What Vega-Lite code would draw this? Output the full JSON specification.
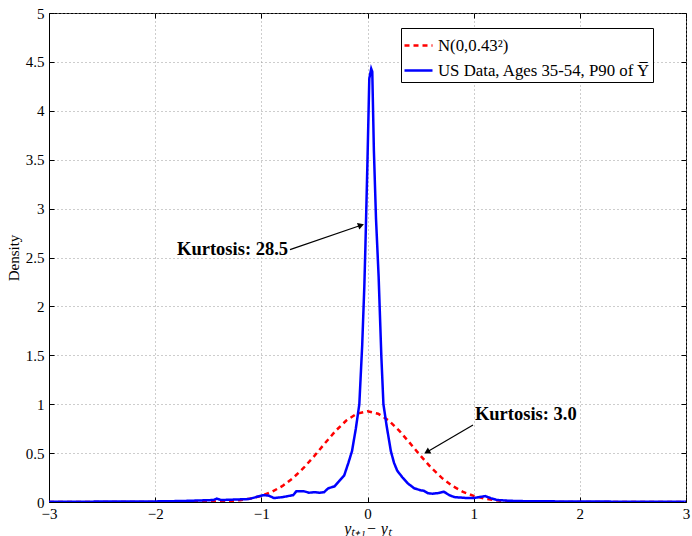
{
  "$schema": "https://vega.github.io/schema/vega-lite/v6.json",
  "width": 637,
  "height": 489,
  "autosize": "none",
  "padding": {"left": 49, "top": 13, "right": 6, "bottom": 34},
  "background": "white",
  "config": {
    "view": {"stroke": "black", "strokeWidth": 1},
    "font": "Liberation Serif"
  },
  "resolve": {"axis": {"x": "independent", "y": "independent"}},
  "datasets": {
    "curves": [
      {"s": "N(0,0.43²)", "x": -3.0, "y": 0.0},
      {"s": "N(0,0.43²)", "x": -2.0, "y": 0.0},
      {"s": "N(0,0.43²)", "x": -1.6, "y": 0.0008},
      {"s": "N(0,0.43²)", "x": -1.5, "y": 0.0021},
      {"s": "N(0,0.43²)", "x": -1.4, "y": 0.0046},
      {"s": "N(0,0.43²)", "x": -1.3, "y": 0.0096},
      {"s": "N(0,0.43²)", "x": -1.2, "y": 0.0189},
      {"s": "N(0,0.43²)", "x": -1.1, "y": 0.0352},
      {"s": "N(0,0.43²)", "x": -1.0, "y": 0.0621},
      {"s": "N(0,0.43²)", "x": -0.9, "y": 0.1039},
      {"s": "N(0,0.43²)", "x": -0.8, "y": 0.1644},
      {"s": "N(0,0.43²)", "x": -0.7, "y": 0.2467},
      {"s": "N(0,0.43²)", "x": -0.6, "y": 0.3506},
      {"s": "N(0,0.43²)", "x": -0.5, "y": 0.472},
      {"s": "N(0,0.43²)", "x": -0.4, "y": 0.602},
      {"s": "N(0,0.43²)", "x": -0.3, "y": 0.7276},
      {"s": "N(0,0.43²)", "x": -0.2, "y": 0.833},
      {"s": "N(0,0.43²)", "x": -0.1, "y": 0.903},
      {"s": "N(0,0.43²)", "x": 0.0, "y": 0.928},
      {"s": "N(0,0.43²)", "x": 0.1, "y": 0.903},
      {"s": "N(0,0.43²)", "x": 0.2, "y": 0.833},
      {"s": "N(0,0.43²)", "x": 0.3, "y": 0.7276},
      {"s": "N(0,0.43²)", "x": 0.4, "y": 0.602},
      {"s": "N(0,0.43²)", "x": 0.5, "y": 0.472},
      {"s": "N(0,0.43²)", "x": 0.6, "y": 0.3506},
      {"s": "N(0,0.43²)", "x": 0.7, "y": 0.2467},
      {"s": "N(0,0.43²)", "x": 0.8, "y": 0.1644},
      {"s": "N(0,0.43²)", "x": 0.9, "y": 0.1039},
      {"s": "N(0,0.43²)", "x": 1.0, "y": 0.0621},
      {"s": "N(0,0.43²)", "x": 1.1, "y": 0.0352},
      {"s": "N(0,0.43²)", "x": 1.2, "y": 0.0189},
      {"s": "N(0,0.43²)", "x": 1.3, "y": 0.0096},
      {"s": "N(0,0.43²)", "x": 1.4, "y": 0.0046},
      {"s": "N(0,0.43²)", "x": 1.5, "y": 0.0021},
      {"s": "N(0,0.43²)", "x": 1.6, "y": 0.0008},
      {"s": "N(0,0.43²)", "x": 2.0, "y": 0.0},
      {"s": "N(0,0.43²)", "x": 3.0, "y": 0.0},
      {"s": "US Data, Ages 35-54, P90 of Y̅", "x": -3.0, "y": 0.003},
      {"s": "US Data, Ages 35-54, P90 of Y̅", "x": -2.5, "y": 0.004},
      {"s": "US Data, Ages 35-54, P90 of Y̅", "x": -2.0, "y": 0.006},
      {"s": "US Data, Ages 35-54, P90 of Y̅", "x": -1.75, "y": 0.01},
      {"s": "US Data, Ages 35-54, P90 of Y̅", "x": -1.6, "y": 0.015},
      {"s": "US Data, Ages 35-54, P90 of Y̅", "x": -1.45, "y": 0.02},
      {"s": "US Data, Ages 35-54, P90 of Y̅", "x": -1.42, "y": 0.035},
      {"s": "US Data, Ages 35-54, P90 of Y̅", "x": -1.38, "y": 0.02},
      {"s": "US Data, Ages 35-54, P90 of Y̅", "x": -1.25, "y": 0.025},
      {"s": "US Data, Ages 35-54, P90 of Y̅", "x": -1.12, "y": 0.03},
      {"s": "US Data, Ages 35-54, P90 of Y̅", "x": -1.05, "y": 0.05},
      {"s": "US Data, Ages 35-54, P90 of Y̅", "x": -0.98, "y": 0.07},
      {"s": "US Data, Ages 35-54, P90 of Y̅", "x": -0.93, "y": 0.065},
      {"s": "US Data, Ages 35-54, P90 of Y̅", "x": -0.88, "y": 0.04},
      {"s": "US Data, Ages 35-54, P90 of Y̅", "x": -0.8, "y": 0.05},
      {"s": "US Data, Ages 35-54, P90 of Y̅", "x": -0.75, "y": 0.06},
      {"s": "US Data, Ages 35-54, P90 of Y̅", "x": -0.7, "y": 0.07},
      {"s": "US Data, Ages 35-54, P90 of Y̅", "x": -0.67, "y": 0.11},
      {"s": "US Data, Ages 35-54, P90 of Y̅", "x": -0.6, "y": 0.11},
      {"s": "US Data, Ages 35-54, P90 of Y̅", "x": -0.55, "y": 0.095},
      {"s": "US Data, Ages 35-54, P90 of Y̅", "x": -0.5, "y": 0.1},
      {"s": "US Data, Ages 35-54, P90 of Y̅", "x": -0.45, "y": 0.095},
      {"s": "US Data, Ages 35-54, P90 of Y̅", "x": -0.41, "y": 0.1},
      {"s": "US Data, Ages 35-54, P90 of Y̅", "x": -0.37, "y": 0.14},
      {"s": "US Data, Ages 35-54, P90 of Y̅", "x": -0.31, "y": 0.16},
      {"s": "US Data, Ages 35-54, P90 of Y̅", "x": -0.27, "y": 0.21},
      {"s": "US Data, Ages 35-54, P90 of Y̅", "x": -0.22, "y": 0.27},
      {"s": "US Data, Ages 35-54, P90 of Y̅", "x": -0.18, "y": 0.4},
      {"s": "US Data, Ages 35-54, P90 of Y̅", "x": -0.146, "y": 0.52},
      {"s": "US Data, Ages 35-54, P90 of Y̅", "x": -0.11, "y": 0.75},
      {"s": "US Data, Ages 35-54, P90 of Y̅", "x": -0.077, "y": 1.0},
      {"s": "US Data, Ages 35-54, P90 of Y̅", "x": -0.05, "y": 1.6},
      {"s": "US Data, Ages 35-54, P90 of Y̅", "x": -0.03, "y": 2.2},
      {"s": "US Data, Ages 35-54, P90 of Y̅", "x": -0.02, "y": 2.6},
      {"s": "US Data, Ages 35-54, P90 of Y̅", "x": 0.0, "y": 3.5},
      {"s": "US Data, Ages 35-54, P90 of Y̅", "x": 0.017, "y": 4.33},
      {"s": "US Data, Ages 35-54, P90 of Y̅", "x": 0.035, "y": 4.43},
      {"s": "US Data, Ages 35-54, P90 of Y̅", "x": 0.045, "y": 4.4},
      {"s": "US Data, Ages 35-54, P90 of Y̅", "x": 0.06, "y": 3.6},
      {"s": "US Data, Ages 35-54, P90 of Y̅", "x": 0.08, "y": 2.9},
      {"s": "US Data, Ages 35-54, P90 of Y̅", "x": 0.105, "y": 2.3},
      {"s": "US Data, Ages 35-54, P90 of Y̅", "x": 0.13, "y": 1.5},
      {"s": "US Data, Ages 35-54, P90 of Y̅", "x": 0.15, "y": 1.0},
      {"s": "US Data, Ages 35-54, P90 of Y̅", "x": 0.18, "y": 0.78},
      {"s": "US Data, Ages 35-54, P90 of Y̅", "x": 0.22, "y": 0.52},
      {"s": "US Data, Ages 35-54, P90 of Y̅", "x": 0.25, "y": 0.4},
      {"s": "US Data, Ages 35-54, P90 of Y̅", "x": 0.28, "y": 0.32},
      {"s": "US Data, Ages 35-54, P90 of Y̅", "x": 0.33, "y": 0.25},
      {"s": "US Data, Ages 35-54, P90 of Y̅", "x": 0.38, "y": 0.19},
      {"s": "US Data, Ages 35-54, P90 of Y̅", "x": 0.44, "y": 0.14},
      {"s": "US Data, Ages 35-54, P90 of Y̅", "x": 0.5, "y": 0.12},
      {"s": "US Data, Ages 35-54, P90 of Y̅", "x": 0.53, "y": 0.115},
      {"s": "US Data, Ages 35-54, P90 of Y̅", "x": 0.57, "y": 0.09},
      {"s": "US Data, Ages 35-54, P90 of Y̅", "x": 0.61, "y": 0.085},
      {"s": "US Data, Ages 35-54, P90 of Y̅", "x": 0.66, "y": 0.09},
      {"s": "US Data, Ages 35-54, P90 of Y̅", "x": 0.72, "y": 0.105},
      {"s": "US Data, Ages 35-54, P90 of Y̅", "x": 0.77, "y": 0.07},
      {"s": "US Data, Ages 35-54, P90 of Y̅", "x": 0.82, "y": 0.05},
      {"s": "US Data, Ages 35-54, P90 of Y̅", "x": 0.88, "y": 0.045},
      {"s": "US Data, Ages 35-54, P90 of Y̅", "x": 0.95, "y": 0.04},
      {"s": "US Data, Ages 35-54, P90 of Y̅", "x": 1.0, "y": 0.04},
      {"s": "US Data, Ages 35-54, P90 of Y̅", "x": 1.05, "y": 0.05},
      {"s": "US Data, Ages 35-54, P90 of Y̅", "x": 1.11, "y": 0.06},
      {"s": "US Data, Ages 35-54, P90 of Y̅", "x": 1.16, "y": 0.04},
      {"s": "US Data, Ages 35-54, P90 of Y̅", "x": 1.22, "y": 0.02},
      {"s": "US Data, Ages 35-54, P90 of Y̅", "x": 1.35, "y": 0.012},
      {"s": "US Data, Ages 35-54, P90 of Y̅", "x": 1.5, "y": 0.008},
      {"s": "US Data, Ages 35-54, P90 of Y̅", "x": 2.0, "y": 0.005},
      {"s": "US Data, Ages 35-54, P90 of Y̅", "x": 2.5, "y": 0.003},
      {"s": "US Data, Ages 35-54, P90 of Y̅", "x": 3.0, "y": 0.003}
    ],
    "arrows": [
      {"x": -0.73, "y": 2.58, "x2": -0.061, "y2": 2.83, "angle": 341},
      {"x": 0.994, "y": 0.787, "x2": 0.56, "y2": 0.511, "angle": 150}
    ],
    "notes": [
      {"x": -1.794, "y": 2.525, "label": "Kurtosis: 28.5"},
      {"x": 1.012, "y": 0.838, "label": "Kurtosis: 3.0"}
    ]
  },
  "layer": [
    {
      "data": {"name": "curves"},
      "mark": {"type": "line", "strokeWidth": 2.5, "clip": true},
      "encoding": {
        "x": {
          "field": "x", "type": "quantitative",
          "scale": {"domain": [-3, 3], "nice": false, "zero": false},
          "axis": {
            "values": [-3, -2, -1, 0, 1, 2, 3],
            "format": "~g",
            "title": "yₜ₊₁− yₜ",
            "titleFont": "Liberation Serif",
            "titleFontStyle": "italic",
            "titleFontWeight": "normal",
            "titleFontSize": 16,
            "titleColor": "black",
            "titlePadding": -1,
            "labelFont": "Liberation Serif",
            "labelFontSize": 15,
            "labelColor": "black",
            "labelPadding": 9,
            "labelFlush": false,
            "domainColor": "black",
            "tickColor": "black",
            "tickSize": -5,
            "grid": true,
            "gridColor": "#9a9a9a",
            "gridDash": [1, 3],
            "gridWidth": 1
          }
        },
        "y": {
          "field": "y", "type": "quantitative",
          "scale": {"domain": [0, 5], "nice": false},
          "axis": {
            "values": [0, 0.5, 1, 1.5, 2, 2.5, 3, 3.5, 4, 4.5, 5],
            "format": "~g",
            "title": "Density",
            "titleFont": "Liberation Serif",
            "titleFontWeight": "normal",
            "titleFontSize": 15,
            "titleColor": "black",
            "titlePadding": 4,
            "labelFont": "Liberation Serif",
            "labelFontSize": 15,
            "labelColor": "black",
            "labelPadding": 10,
            "labelFlush": false,
            "domainColor": "black",
            "tickColor": "black",
            "tickSize": -5,
            "grid": true,
            "gridColor": "#9a9a9a",
            "gridDash": [1, 3],
            "gridWidth": 1
          }
        },
        "color": {
          "field": "s", "type": "nominal",
          "scale": {"domain": ["N(0,0.43²)", "US Data, Ages 35-54, P90 of Y̅"], "range": ["#ff0000", "#0000ff"]},
          "legend": {
            "title": null,
            "orient": "none",
            "legendX": 352,
            "legendY": 15,
            "direction": "vertical",
            "strokeColor": "black",
            "fillColor": "white",
            "padding": 2,
            "symbolType": "stroke",
            "symbolSize": 784,
            "symbolStrokeWidth": 2.5,
            "labelFont": "Liberation Serif",
            "labelFontSize": 16.8,
            "labelColor": "black",
            "labelOffset": 4,
            "rowPadding": -14,
            "labelLimit": 400
          }
        },
        "strokeDash": {
          "field": "s", "type": "nominal",
          "scale": {"domain": ["N(0,0.43²)", "US Data, Ages 35-54, P90 of Y̅"], "range": [[5, 4], [1, 0]]},
          "legend": null
        }
      }
    },
    {
      "data": {"name": "arrows"},
      "mark": {"type": "rule", "color": "black", "strokeWidth": 1.2},
      "encoding": {
        "x": {
          "field": "x", "type": "quantitative",
          "axis": {"orient": "top", "values": [-3, -2, -1, 0, 1, 2, 3], "labels": false, "domain": false, "grid": false, "title": null, "tickColor": "black", "tickSize": -5}
        },
        "y": {
          "field": "y", "type": "quantitative",
          "axis": {"orient": "right", "values": [0, 0.5, 1, 1.5, 2, 2.5, 3, 3.5, 4, 4.5, 5], "labels": false, "domain": false, "grid": false, "title": null, "tickColor": "black", "tickSize": -5}
        },
        "x2": {"field": "x2"},
        "y2": {"field": "y2"}
      }
    },
    {
      "data": {"name": "arrows"},
      "mark": {"type": "point", "shape": "triangle-right", "filled": true, "color": "black", "size": 50, "opacity": 1},
      "encoding": {
        "x": {"field": "x2", "type": "quantitative", "axis": null},
        "y": {"field": "y2", "type": "quantitative", "axis": null},
        "angle": {"field": "angle", "type": "quantitative", "scale": null}
      }
    },
    {
      "data": {"name": "notes"},
      "mark": {"type": "text", "align": "left", "baseline": "alphabetic", "font": "Liberation Serif", "fontWeight": "bold", "fontSize": 18.5, "color": "black"},
      "encoding": {
        "x": {"field": "x", "type": "quantitative", "axis": null},
        "y": {"field": "y", "type": "quantitative", "axis": null},
        "text": {"field": "label"}
      }
    }
  ]
}
